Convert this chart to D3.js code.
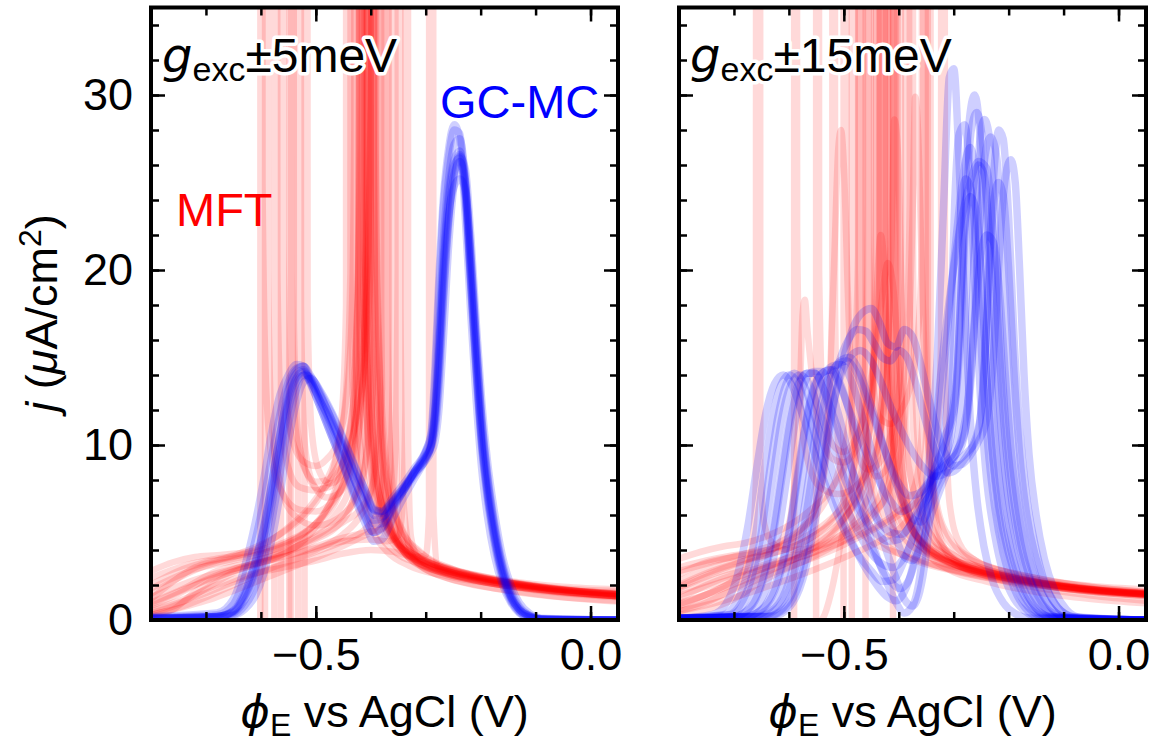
<!DOCTYPE html>
<html>
<head>
<meta charset="utf-8">
<script src="https://cdn.jsdelivr.net/npm/d3@7"></script>
<style>
  body { margin: 0; background: #fff; }
</style>
</head>
<body>
<svg id="chart" width="1158" height="744"></svg>
<script>
// ---- tick values ----
const xMinorTicks = [-0.8, -0.7, -0.6, -0.5, -0.4, -0.3, -0.2, -0.1, 0.0];
const xMajorTicks = [-0.5, 0.0];
const yMinorTicks = [0, 2, 4, 6, 8, 10, 12, 14, 16, 18, 20, 22, 24, 26, 28, 30, 32, 34];
const yMajorTicks = [0, 10, 20, 30];

// ---- GC-MC, +-5 meV panel (shared potential grid, one row of j per run) ----
const gcmcLeftX = [-0.80,-0.68,-0.65,-0.63,-0.61,-0.595,-0.58,-0.565,-0.55,-0.535,-0.522,-0.51,-0.49,-0.47,-0.45,-0.43,-0.41,-0.395,-0.38,-0.36,-0.34,-0.32,-0.30,-0.29,-0.283,-0.276,-0.268,-0.258,-0.248,-0.238,-0.228,-0.218,-0.208,-0.198,-0.188,-0.175,-0.16,-0.145,-0.13,-0.11,-0.09,0.05];
const gcmcLeftY = [
  [0.1,0.2,0.5,1.4,3.0,4.8,7.3,10.0,12.6,13.9,14.2,13.7,12.4,11.0,9.6,8.0,6.6,5.7,5.8,6.7,7.5,8.4,9.3,10.0,11.8,15.5,20.5,24.5,26.3,26.8,24.5,19.5,14.5,10.2,7.4,4.8,2.6,1.3,0.6,0.2,0.05,0],
  [0.2,0.4,1.2,3.0,5.6,8.0,10.8,12.9,14.0,14.6,14.5,13.6,12.0,10.4,8.8,7.2,5.8,5.0,5.3,6.4,7.4,8.5,9.6,10.8,14.5,19.5,24,27,28.3,27.5,23,17.5,12.5,8.6,6.0,3.7,2.0,1.0,0.4,0.12,0.03,0],
  [0.06,0.12,0.25,0.6,1.4,2.6,4.6,7.2,10.2,12.5,13.6,13.8,13.0,11.8,10.4,8.9,7.4,6.3,6.1,6.8,7.6,8.4,9.1,9.6,10.2,12,16,21.5,25,26.5,25.8,22,17,12.5,9.2,6.2,3.6,2.0,1.0,0.35,0.1,0],
  [0.12,0.2,0.5,1.5,3.3,5.2,7.8,10.6,13.0,14.1,14.3,13.5,12.0,10.4,8.8,7.0,5.5,4.5,4.6,5.8,7.0,8.1,9.2,10.0,12.3,16.5,21.5,25.3,27.2,27.5,25.2,20,15,10.5,7.6,4.9,2.7,1.3,0.6,0.2,0.05,0],
  [0.1,0.2,0.45,1.3,2.8,4.6,7.0,9.8,12.4,13.8,14.1,13.8,12.7,11.4,10.0,8.5,7.2,6.3,6.2,7.0,7.8,8.7,9.6,10.4,12,15,19.5,23.2,24.8,25.2,24.6,21,16,11.5,8.3,5.4,3.0,1.5,0.7,0.25,0.07,0],
  [0.16,0.3,0.9,2.4,4.6,6.8,9.4,11.8,13.6,14.4,14.5,13.8,12.2,10.6,9.0,7.3,5.9,5.0,5.2,6.3,7.4,8.5,9.7,10.6,13.6,18.6,23.5,26.5,28,27.8,24.5,19,14,9.8,7.0,4.4,2.3,1.1,0.45,0.12,0.03,0],
  [0.08,0.15,0.3,0.8,1.9,3.4,5.7,8.4,11.2,13.2,14.0,13.9,12.9,11.7,10.3,8.8,7.4,6.4,6.2,6.8,7.6,8.5,9.3,9.9,10.8,13.3,18,22.8,25.6,26.6,25.2,21,16,11.6,8.5,5.6,3.2,1.7,0.8,0.25,0.07,0],
  [0.12,0.2,0.55,1.6,3.4,5.3,7.9,10.7,13.2,14.3,14.5,14.0,12.8,11.3,9.7,8.0,6.5,5.5,5.5,6.5,7.4,8.3,9.2,9.9,11.2,14,18.5,23,25.5,26.2,25,20.5,15.5,11,8,5.2,2.9,1.4,0.6,0.2,0.05,0],
  [0.1,0.18,0.4,1.1,2.5,4.2,6.6,9.4,12.0,13.6,14.0,13.6,12.4,11.2,9.9,8.4,7.0,6.0,5.9,6.6,7.5,8.5,9.4,10.1,11.5,14.8,20,24,26,26.4,24,19.2,14.2,10,7.2,4.6,2.5,1.2,0.5,0.15,0.04,0]
];

// ---- GC-MC, +-15 meV panel: [potential, j] per run ----
const gcmcRight = [
  [[-0.8,0.1],[-0.72,0.3],[-0.7,0.8],[-0.68,2.2],[-0.66,5],[-0.645,8.5],[-0.63,11.5],[-0.615,13.4],[-0.6,14],[-0.585,13.6],[-0.565,11.8],[-0.54,9.2],[-0.515,6.8],[-0.49,4.8],[-0.465,3.2],[-0.44,2.0],[-0.42,1.3],[-0.405,1.1],[-0.39,1.6],[-0.375,3],[-0.36,5.5],[-0.345,9],[-0.33,15],[-0.318,24],[-0.308,31],[-0.3,31.5],[-0.29,26],[-0.28,18],[-0.27,11.5],[-0.258,7],[-0.245,4.2],[-0.23,2.3],[-0.21,1.0],[-0.19,0.4],[-0.16,0.1],[0.05,0]],
  [[-0.8,0.1],[-0.71,0.3],[-0.69,0.8],[-0.67,2.2],[-0.65,5],[-0.635,8.5],[-0.62,11.6],[-0.605,13.5],[-0.59,14.1],[-0.575,13.6],[-0.555,11.8],[-0.53,9.4],[-0.505,7.2],[-0.48,5.4],[-0.455,4.0],[-0.43,3.2],[-0.41,3.0],[-0.39,3.6],[-0.37,5],[-0.35,6.8],[-0.33,8.5],[-0.315,11],[-0.305,17],[-0.298,24],[-0.29,27.8],[-0.28,28.3],[-0.27,25],[-0.26,18],[-0.25,12],[-0.24,8],[-0.225,4.8],[-0.21,2.7],[-0.19,1.2],[-0.17,0.5],[-0.14,0.1],[0.05,0]],
  [[-0.8,0.1],[-0.68,0.2],[-0.65,0.6],[-0.625,2],[-0.6,5],[-0.585,8.2],[-0.57,11.2],[-0.555,13.3],[-0.54,14.1],[-0.525,14.3],[-0.51,13.6],[-0.49,12],[-0.465,10],[-0.44,8.2],[-0.415,6.8],[-0.395,6.2],[-0.375,6.6],[-0.355,7.5],[-0.335,8.3],[-0.315,9],[-0.3,9.6],[-0.29,11],[-0.282,15],[-0.275,20],[-0.265,24.5],[-0.255,26],[-0.245,25.5],[-0.235,22],[-0.225,16.5],[-0.215,11.5],[-0.205,8],[-0.19,5],[-0.175,3],[-0.155,1.4],[-0.13,0.4],[-0.1,0.1],[0.05,0]],
  [[-0.8,0.1],[-0.68,0.2],[-0.645,0.7],[-0.62,2.2],[-0.598,5.2],[-0.582,8.5],[-0.567,11.5],[-0.552,13.4],[-0.535,14.2],[-0.52,14.3],[-0.505,13.4],[-0.485,11.3],[-0.465,8.8],[-0.445,6.3],[-0.425,4.2],[-0.405,2.4],[-0.39,1.2],[-0.375,0.8],[-0.362,1.6],[-0.35,3.8],[-0.338,7.5],[-0.325,12],[-0.31,17],[-0.295,22],[-0.28,26],[-0.27,27],[-0.26,25.5],[-0.25,20],[-0.24,14],[-0.23,9.5],[-0.218,6],[-0.2,3.2],[-0.18,1.5],[-0.16,0.6],[-0.13,0.15],[0.05,0]],
  [[-0.8,0.1],[-0.66,0.2],[-0.625,0.7],[-0.6,2.2],[-0.578,5.2],[-0.562,8.5],[-0.546,11.6],[-0.53,13.7],[-0.512,14.6],[-0.495,14.8],[-0.478,14.2],[-0.46,12.8],[-0.44,11],[-0.42,9.2],[-0.4,7.8],[-0.38,7.1],[-0.36,7.3],[-0.34,8],[-0.32,8.7],[-0.3,9.3],[-0.285,10],[-0.275,12],[-0.267,17],[-0.26,23],[-0.252,27.5],[-0.244,28.6],[-0.236,27.8],[-0.226,23],[-0.215,16],[-0.205,11],[-0.192,7.2],[-0.178,4.4],[-0.16,2.3],[-0.14,1],[-0.115,0.3],[-0.09,0.1],[0.05,0]],
  [[-0.8,0.1],[-0.64,0.2],[-0.605,0.7],[-0.58,2.2],[-0.558,5.2],[-0.54,8.5],[-0.523,11.8],[-0.505,14],[-0.487,15.1],[-0.47,15.4],[-0.452,14.9],[-0.435,13.8],[-0.415,12.2],[-0.395,10.8],[-0.375,9.6],[-0.355,8.7],[-0.335,8.2],[-0.315,8.4],[-0.295,9],[-0.275,9.6],[-0.26,10.2],[-0.25,12],[-0.242,16],[-0.235,21],[-0.227,25.5],[-0.218,28],[-0.21,27.5],[-0.2,23],[-0.19,16],[-0.18,11],[-0.168,7.2],[-0.152,4.3],[-0.135,2.2],[-0.115,0.9],[-0.09,0.25],[-0.06,0.05],[0.05,0]],
  [[-0.8,0.1],[-0.63,0.2],[-0.6,0.7],[-0.575,2.3],[-0.553,5.5],[-0.535,9],[-0.518,12.4],[-0.5,15],[-0.482,16.8],[-0.465,17.6],[-0.45,17.8],[-0.435,17],[-0.42,15.8],[-0.405,15.6],[-0.39,16.6],[-0.375,16.2],[-0.36,14.6],[-0.345,12.6],[-0.33,10.8],[-0.315,9.5],[-0.3,8.8],[-0.285,8.9],[-0.27,9.4],[-0.255,10.2],[-0.24,11.5],[-0.23,14],[-0.222,18],[-0.214,22.5],[-0.205,25.5],[-0.196,26.3],[-0.188,25],[-0.18,20],[-0.172,14],[-0.163,9.5],[-0.15,6],[-0.135,3.5],[-0.115,1.6],[-0.095,0.6],[-0.07,0.15],[0.05,0]],
  [[-0.8,0.1],[-0.64,0.2],[-0.61,0.7],[-0.585,2.3],[-0.563,5.5],[-0.545,9],[-0.527,12.3],[-0.51,14.6],[-0.492,16],[-0.475,16.6],[-0.46,16.5],[-0.445,15.8],[-0.43,15],[-0.415,14.8],[-0.4,15.4],[-0.385,15],[-0.37,13.6],[-0.355,11.8],[-0.34,10.2],[-0.325,9],[-0.31,8.4],[-0.295,8.6],[-0.28,9.2],[-0.265,10],[-0.252,11.5],[-0.243,15],[-0.236,19.5],[-0.228,23.5],[-0.219,25],[-0.21,24.3],[-0.2,20],[-0.19,14],[-0.18,9.5],[-0.167,6],[-0.15,3.5],[-0.13,1.7],[-0.11,0.7],[-0.085,0.2],[0.05,0]],
  [[-0.8,0.1],[-0.7,0.2],[-0.67,0.7],[-0.648,2.2],[-0.628,5],[-0.612,8.3],[-0.597,11.4],[-0.582,13.4],[-0.567,14.1],[-0.553,14.1],[-0.538,13.3],[-0.515,11.3],[-0.49,9],[-0.465,7.1],[-0.44,5.8],[-0.415,5.0],[-0.395,4.9],[-0.375,5.6],[-0.355,6.6],[-0.335,7.6],[-0.32,8.6],[-0.31,10],[-0.302,14],[-0.295,19],[-0.287,23.5],[-0.278,25.2],[-0.268,24.5],[-0.258,20.5],[-0.248,14.5],[-0.238,10],[-0.226,6.6],[-0.21,3.8],[-0.19,1.8],[-0.17,0.7],[-0.14,0.15],[0.05,0]],
  [[-0.8,0.1],[-0.67,0.2],[-0.635,0.7],[-0.61,2.2],[-0.59,5.2],[-0.573,8.5],[-0.557,11.6],[-0.54,13.6],[-0.522,14.5],[-0.505,14.6],[-0.488,13.8],[-0.468,11.8],[-0.448,9.5],[-0.428,7.2],[-0.408,5],[-0.39,3.6],[-0.375,3.4],[-0.36,4.2],[-0.345,5.6],[-0.33,7],[-0.315,8.2],[-0.3,9.2],[-0.285,10.5],[-0.272,13],[-0.262,17],[-0.252,20.5],[-0.24,22],[-0.228,21.6],[-0.216,18.5],[-0.205,13.5],[-0.195,9.5],[-0.182,6.2],[-0.165,3.6],[-0.145,1.8],[-0.12,0.6],[-0.095,0.15],[0.05,0]],
  [[-0.8,0.1],[-0.69,0.2],[-0.66,0.7],[-0.638,2.2],[-0.618,5.2],[-0.602,8.5],[-0.587,11.6],[-0.572,13.5],[-0.555,14.2],[-0.54,14.2],[-0.525,13.3],[-0.505,11.2],[-0.485,8.6],[-0.465,6.2],[-0.445,4.1],[-0.425,2.4],[-0.405,1.0],[-0.39,0.4],[-0.375,0.8],[-0.362,2.4],[-0.35,5.5],[-0.338,9.5],[-0.322,14.5],[-0.305,19],[-0.288,22.5],[-0.27,25],[-0.255,26.2],[-0.24,25.8],[-0.228,22],[-0.218,16],[-0.208,11],[-0.195,7],[-0.178,4],[-0.158,2],[-0.135,0.7],[-0.11,0.15],[0.05,0]],
  [[-0.8,0.1],[-0.74,0.3],[-0.715,0.9],[-0.695,2.4],[-0.675,5.3],[-0.658,8.8],[-0.642,11.8],[-0.626,13.5],[-0.61,14],[-0.594,13.4],[-0.574,11.6],[-0.55,9.2],[-0.525,7],[-0.5,5.2],[-0.475,3.8],[-0.45,2.8],[-0.43,2.2],[-0.41,2.3],[-0.39,3.4],[-0.37,5.2],[-0.35,7.2],[-0.33,9],[-0.31,10.6],[-0.295,13],[-0.285,18],[-0.277,24],[-0.268,28],[-0.258,29],[-0.248,27.5],[-0.238,22],[-0.228,15.5],[-0.218,10.5],[-0.205,6.6],[-0.19,3.8],[-0.17,1.8],[-0.148,0.6],[-0.12,0.15],[0.05,0]],
  [[-0.8,0.1],[-0.705,0.3],[-0.685,0.8],[-0.664,2.2],[-0.644,5],[-0.628,8.4],[-0.613,11.5],[-0.597,13.4],[-0.58,14],[-0.565,13.6],[-0.545,12],[-0.52,9.8],[-0.495,7.8],[-0.47,6.2],[-0.445,5.1],[-0.42,4.5],[-0.4,4.6],[-0.38,5.4],[-0.36,6.6],[-0.34,7.8],[-0.32,9],[-0.305,10.5],[-0.295,13.5],[-0.288,18],[-0.28,22.5],[-0.27,24.2],[-0.26,23.5],[-0.25,19.5],[-0.24,14],[-0.23,9.8],[-0.218,6.5],[-0.2,3.8],[-0.18,1.9],[-0.16,0.8],[-0.13,0.2],[0.05,0]],
  [[-0.8,0.1],[-0.655,0.2],[-0.62,0.7],[-0.595,2.2],[-0.573,5.2],[-0.556,8.6],[-0.54,11.7],[-0.524,13.8],[-0.507,14.8],[-0.49,15],[-0.473,14.3],[-0.453,12.5],[-0.432,10.4],[-0.412,8.4],[-0.392,6.8],[-0.375,5.8],[-0.36,5.6],[-0.345,6.3],[-0.328,7.6],[-0.31,8.8],[-0.292,9.8],[-0.278,11],[-0.268,14],[-0.26,18.5],[-0.252,23],[-0.243,26.5],[-0.233,27.6],[-0.222,26.5],[-0.212,22],[-0.203,16],[-0.194,11],[-0.182,7.2],[-0.166,4.3],[-0.148,2.2],[-0.125,0.8],[-0.1,0.2],[0.05,0]],
  [[-0.8,0.1],[-0.7,0.2],[-0.672,0.7],[-0.65,2.2],[-0.63,5],[-0.614,8.4],[-0.599,11.5],[-0.584,13.4],[-0.568,14.1],[-0.553,14.1],[-0.538,13.2],[-0.518,11],[-0.497,8.6],[-0.476,6.4],[-0.455,4.6],[-0.435,3.2],[-0.415,2.2],[-0.398,1.8],[-0.383,2.2],[-0.368,3.6],[-0.352,5.8],[-0.336,8.2],[-0.318,10.3],[-0.302,12],[-0.292,15],[-0.285,20],[-0.278,25.5],[-0.27,29],[-0.262,30],[-0.254,28.5],[-0.245,23],[-0.236,16.5],[-0.226,11],[-0.213,7],[-0.196,4],[-0.176,2],[-0.154,0.8],[-0.125,0.2],[0.05,0]]
];

// ---- MFT, +-5 meV panel: [potential, j]; +-500 marks a divergence ----
const mftLeft = [
  [[-0.8,0.4],[-0.75,0.9],[-0.7,1.8],[-0.65,2.7],[-0.6,3.3],[-0.55,3.9],[-0.5,4.6],[-0.46,5.4],[-0.435,6.6],[-0.42,8.5],[-0.412,12],[-0.407,22],[-0.404,500],[-0.4,22],[-0.395,12],[-0.385,8],[-0.37,5.6],[-0.35,4.3],[-0.32,3.4],[-0.27,2.7],[-0.2,2.2],[-0.1,1.7],[0.05,1.3]],
  [[-0.8,1.5],[-0.75,2.4],[-0.7,3.1],[-0.65,3.5],[-0.6,3.8],[-0.55,4.3],[-0.5,5.1],[-0.46,6.2],[-0.44,7.4],[-0.425,9.5],[-0.416,14],[-0.412,25],[-0.409,500],[-0.405,25],[-0.4,13],[-0.39,8.5],[-0.375,6],[-0.355,4.6],[-0.32,3.6],[-0.27,2.9],[-0.2,2.3],[-0.1,1.85],[0.05,1.55]],
  [[-0.8,2.8],[-0.76,3.3],[-0.72,3.6],[-0.68,3.7],[-0.62,3.9],[-0.56,4.4],[-0.5,5.5],[-0.46,7],[-0.44,8.8],[-0.43,11.5],[-0.424,17],[-0.421,30],[-0.419,500],[-0.416,28],[-0.41,14],[-0.4,8.5],[-0.385,6],[-0.36,4.4],[-0.32,3.5],[-0.25,2.7],[-0.15,2.15],[-0.05,1.8],[0.05,1.65]],
  [[-0.8,0.2],[-0.76,0.6],[-0.72,1.6],[-0.68,2.4],[-0.64,2.9],[-0.6,3.4],[-0.55,4.0],[-0.5,4.8],[-0.45,6.0],[-0.42,7.4],[-0.41,9],[-0.403,14],[-0.399,30],[-0.397,500],[-0.394,26],[-0.39,13],[-0.38,8],[-0.365,5.4],[-0.34,3.9],[-0.3,2.9],[-0.24,2.2],[-0.15,1.7],[-0.05,1.3],[0.05,1.05]],
  [[-0.8,-3],[-0.65,-4],[-0.61,-12],[-0.602,-500],[-0.6,500],[-0.597,25],[-0.59,13],[-0.58,9.2],[-0.56,7.2],[-0.53,6.3],[-0.5,6.2],[-0.47,6.8],[-0.445,8.2],[-0.43,10.5],[-0.42,16],[-0.416,30],[-0.414,500],[-0.411,28],[-0.405,14],[-0.395,8.6],[-0.38,6.2],[-0.36,4.7],[-0.33,3.7],[-0.28,3.0],[-0.2,2.4],[-0.1,1.9],[0.05,1.5]],
  [[-0.8,-2],[-0.6,-4],[-0.57,-12],[-0.565,-500],[-0.562,500],[-0.559,22],[-0.553,12.5],[-0.54,10],[-0.52,9],[-0.5,8.8],[-0.48,9.2],[-0.46,10.2],[-0.445,12.5],[-0.435,17],[-0.43,28],[-0.428,500],[-0.425,28],[-0.42,16],[-0.41,10],[-0.395,7],[-0.37,5],[-0.33,3.8],[-0.27,3.0],[-0.18,2.3],[-0.08,1.8],[0.05,1.45]],
  [[-0.8,-2],[-0.58,-4],[-0.555,-12],[-0.55,-500],[-0.547,500],[-0.544,20],[-0.537,11],[-0.52,8.6],[-0.5,7.9],[-0.48,8.0],[-0.46,8.8],[-0.44,10.5],[-0.43,13],[-0.422,20],[-0.419,500],[-0.416,24],[-0.41,14],[-0.4,9],[-0.385,6.5],[-0.36,4.8],[-0.32,3.7],[-0.25,2.9],[-0.15,2.25],[-0.05,1.9],[0.05,1.75]],
  [[-0.8,-2],[-0.56,-4],[-0.54,-12],[-0.534,-500],[-0.531,500],[-0.527,18],[-0.52,10],[-0.505,7.8],[-0.48,7],[-0.46,7.2],[-0.44,8.2],[-0.425,10],[-0.415,13.5],[-0.409,22],[-0.406,500],[-0.403,20],[-0.397,11],[-0.385,7.2],[-0.37,5.3],[-0.34,4],[-0.3,3.2],[-0.22,2.5],[-0.12,1.95],[0.05,1.4]],
  [[-0.8,-2],[-0.62,-5],[-0.594,-500],[-0.591,500],[-0.587,20],[-0.58,11],[-0.565,7.8],[-0.54,6],[-0.5,5.4],[-0.46,5.8],[-0.43,7],[-0.41,9],[-0.4,11.5],[-0.393,17],[-0.389,500],[-0.386,18],[-0.38,9.5],[-0.37,6.5],[-0.355,4.8],[-0.33,3.7],[-0.29,3.0],[-0.22,2.4],[-0.12,1.9],[0.05,1.35]],
  [[-0.8,0.8],[-0.75,1.5],[-0.7,2.3],[-0.65,2.9],[-0.6,3.3],[-0.55,3.7],[-0.5,4.2],[-0.45,4.7],[-0.41,5.0],[-0.38,5.2],[-0.365,6],[-0.356,9],[-0.351,20],[-0.349,500],[-0.346,18],[-0.341,7],[-0.33,4.2],[-0.31,3.1],[-0.27,2.5],[-0.2,1.95],[-0.1,1.45],[0.05,1.1]],
  [[-0.8,1.0],[-0.74,1.8],[-0.68,2.8],[-0.62,3.3],[-0.56,3.9],[-0.5,4.7],[-0.45,5.6],[-0.42,6.3],[-0.4,7.4],[-0.39,10],[-0.386,18],[-0.384,500],[-0.381,18],[-0.376,8.5],[-0.365,5.5],[-0.345,4.1],[-0.31,3.2],[-0.25,2.6],[-0.15,2.0],[-0.05,1.6],[0.05,1.35]],
  [[-0.8,0.6],[-0.74,1.2],[-0.68,2.0],[-0.62,2.6],[-0.56,3.0],[-0.5,3.4],[-0.45,3.8],[-0.4,4.0],[-0.36,3.9],[-0.32,3.6],[-0.3,3.7],[-0.294,6],[-0.29,500],[-0.286,6],[-0.278,3.0],[-0.25,2.6],[-0.18,2.1],[-0.08,1.7],[0.05,1.35]],
  [[-0.8,2.0],[-0.75,2.8],[-0.7,3.3],[-0.65,3.6],[-0.6,4.2],[-0.55,5.3],[-0.51,6.5],[-0.48,8],[-0.46,9.8],[-0.445,13],[-0.437,20],[-0.433,500],[-0.43,22],[-0.424,12],[-0.41,7.6],[-0.39,5.3],[-0.36,4.0],[-0.31,3.2],[-0.24,2.6],[-0.14,2.0],[-0.04,1.6],[0.05,1.4]],
  [[-0.8,1.2],[-0.76,2.2],[-0.72,3.0],[-0.68,3.4],[-0.64,3.8],[-0.6,4.3],[-0.56,5],[-0.52,6],[-0.49,7.2],[-0.465,9],[-0.452,12],[-0.445,18],[-0.441,500],[-0.437,20],[-0.43,11],[-0.415,7],[-0.395,5],[-0.37,3.9],[-0.33,3.1],[-0.26,2.5],[-0.16,2.0],[-0.06,1.6],[0.05,1.35]],
  [[-0.8,0.3],[-0.75,0.7],[-0.7,1.3],[-0.65,2.0],[-0.6,2.7],[-0.55,3.3],[-0.5,3.9],[-0.45,4.5],[-0.41,5.2],[-0.39,6.0],[-0.38,7.5],[-0.374,11],[-0.371,500],[-0.367,12],[-0.36,6],[-0.345,4.2],[-0.32,3.3],[-0.27,2.7],[-0.2,2.2],[-0.1,1.75],[0.05,1.35]],
  [[-0.8,1.8],[-0.72,2.9],[-0.65,3.4],[-0.58,4.0],[-0.52,5.0],[-0.48,6.2],[-0.45,7.8],[-0.43,9.8],[-0.418,12.5],[-0.41,16],[-0.404,22],[-0.4,32],[-0.398,500],[-0.395,30],[-0.39,16],[-0.38,10],[-0.365,7],[-0.345,5.2],[-0.31,3.9],[-0.25,2.9],[-0.15,2.2],[-0.05,1.75],[0.05,1.45]],
  [[-0.8,0.9],[-0.72,2.0],[-0.64,2.9],[-0.57,3.6],[-0.52,4.6],[-0.49,5.8],[-0.465,7.4],[-0.448,9.4],[-0.436,12],[-0.428,15.5],[-0.422,21],[-0.418,30],[-0.416,500],[-0.413,28],[-0.408,17],[-0.4,11],[-0.385,7.3],[-0.36,5],[-0.32,3.7],[-0.26,2.9],[-0.16,2.2],[-0.06,1.75],[0.05,1.45]],
  [[-0.8,2.4],[-0.74,3.1],[-0.68,3.5],[-0.62,3.8],[-0.56,4.3],[-0.51,5.2],[-0.475,6.6],[-0.45,8.4],[-0.432,10.8],[-0.42,13.5],[-0.41,17.5],[-0.403,24],[-0.398,36],[-0.396,500],[-0.392,30],[-0.386,17],[-0.376,10.5],[-0.362,7],[-0.34,5],[-0.3,3.6],[-0.22,2.6],[-0.12,2.0],[0.05,1.45]],
  [[-0.8,-2],[-0.6,-4],[-0.58,-15],[-0.577,-500],[-0.574,500],[-0.57,20],[-0.563,11.5],[-0.55,8.7],[-0.53,7.6],[-0.5,7.4],[-0.47,8.0],[-0.445,9.4],[-0.425,11.6],[-0.41,15],[-0.4,21],[-0.394,500],[-0.39,22],[-0.383,13],[-0.372,8.3],[-0.355,5.8],[-0.33,4.3],[-0.28,3.2],[-0.2,2.5],[-0.1,1.95],[0.05,1.5]],
  [[-0.8,-2],[-0.55,-4],[-0.525,-15],[-0.522,-500],[-0.519,500],[-0.515,18],[-0.508,11],[-0.495,8.6],[-0.475,7.8],[-0.455,8.2],[-0.44,9.3],[-0.428,11.3],[-0.418,14.5],[-0.41,20],[-0.406,28],[-0.404,500],[-0.4,24],[-0.393,13.5],[-0.38,8.3],[-0.36,5.6],[-0.33,4.1],[-0.28,3.1],[-0.2,2.4],[-0.1,1.9],[0.05,1.45]],
  [[-0.8,0.5],[-0.72,1.3],[-0.64,2.3],[-0.57,3.1],[-0.5,4.0],[-0.45,4.9],[-0.42,5.9],[-0.4,7.2],[-0.388,9.4],[-0.38,13],[-0.376,19],[-0.373,500],[-0.37,18],[-0.365,10],[-0.355,6.2],[-0.34,4.6],[-0.31,3.5],[-0.26,2.8],[-0.18,2.2],[-0.08,1.75],[0.05,1.35]],
  [[-0.8,0.3],[-0.7,1.1],[-0.6,2.3],[-0.52,3.3],[-0.46,4.1],[-0.42,4.7],[-0.39,5.3],[-0.372,6.4],[-0.365,8.5],[-0.36,14],[-0.358,500],[-0.355,12],[-0.35,6],[-0.34,4.2],[-0.32,3.4],[-0.28,2.8],[-0.2,2.2],[-0.1,1.75],[0.05,1.35]],
  [[-0.8,1.3],[-0.72,2.3],[-0.64,3.0],[-0.56,3.6],[-0.5,4.1],[-0.45,4.5],[-0.4,4.6],[-0.37,4.5],[-0.35,4.8],[-0.342,6.5],[-0.337,12],[-0.335,500],[-0.332,10],[-0.327,4.8],[-0.315,3.6],[-0.28,2.9],[-0.2,2.3],[-0.1,1.85],[0.05,1.45]],
  [[-0.8,-2],[-0.57,-4],[-0.55,-15],[-0.547,-500],[-0.544,500],[-0.54,17],[-0.532,10.5],[-0.515,8.3],[-0.495,7.5],[-0.475,7.6],[-0.455,8.6],[-0.44,10.5],[-0.43,13.5],[-0.424,18.5],[-0.42,28],[-0.418,500],[-0.414,26],[-0.407,14.5],[-0.395,9],[-0.375,6.2],[-0.35,4.6],[-0.3,3.4],[-0.22,2.6],[-0.12,2.0],[0.05,1.5]]
];

// ---- MFT, +-15 meV panel ----
const mftRight = [
  [[-0.8,1.0],[-0.74,1.6],[-0.7,2.3],[-0.68,2.9],[-0.668,4],[-0.66,8],[-0.656,500],[-0.652,9],[-0.645,5.5],[-0.63,4.4],[-0.6,4.0],[-0.56,4.1],[-0.52,4.6],[-0.48,5.4],[-0.45,6.3],[-0.43,7.5],[-0.418,10],[-0.41,16],[-0.406,500],[-0.402,16],[-0.395,9],[-0.38,6],[-0.36,4.6],[-0.33,3.7],[-0.28,2.9],[-0.2,2.3],[-0.1,1.8],[0.05,1.4]],
  [[-0.8,-3],[-0.62,-5],[-0.595,-30],[-0.592,-500],[-0.589,500],[-0.585,22],[-0.578,12],[-0.565,9],[-0.54,7.5],[-0.51,7.2],[-0.48,7.6],[-0.455,8.6],[-0.435,10.5],[-0.422,14],[-0.415,22],[-0.412,500],[-0.408,22],[-0.4,11],[-0.385,7],[-0.36,5],[-0.32,3.8],[-0.26,3.0],[-0.17,2.3],[-0.07,1.8],[0.05,1.5]],
  [[-0.8,-2],[-0.58,-4],[-0.555,-20],[-0.552,-500],[-0.549,500],[-0.545,20],[-0.538,12.5],[-0.52,10],[-0.5,9.6],[-0.48,10.3],[-0.46,12],[-0.445,15],[-0.435,20],[-0.43,500],[-0.426,22],[-0.418,12],[-0.405,8],[-0.385,5.8],[-0.35,4.3],[-0.3,3.3],[-0.22,2.6],[-0.12,2.0],[0.05,1.5]],
  [[-0.8,2.6],[-0.75,3.3],[-0.7,3.6],[-0.65,3.9],[-0.6,4.5],[-0.57,5.3],[-0.55,6.6],[-0.535,9],[-0.525,14],[-0.517,21],[-0.51,27],[-0.505,28],[-0.5,26],[-0.493,19],[-0.485,12],[-0.475,8],[-0.46,6],[-0.44,4.8],[-0.41,4],[-0.37,3.4],[-0.3,2.8],[-0.2,2.2],[-0.1,1.8],[0.05,1.45]],
  [[-0.8,1.8],[-0.74,2.6],[-0.68,3.2],[-0.63,4],[-0.6,5.5],[-0.588,8.5],[-0.58,13],[-0.575,17.5],[-0.571,18.3],[-0.566,16.5],[-0.556,13.5],[-0.54,10.6],[-0.52,9.2],[-0.5,9],[-0.48,9.6],[-0.46,11],[-0.445,13.5],[-0.435,18],[-0.43,500],[-0.425,18],[-0.415,10.5],[-0.4,7.3],[-0.38,5.4],[-0.35,4.1],[-0.3,3.2],[-0.22,2.5],[-0.12,2.0],[0.05,1.55]],
  [[-0.8,-1],[-0.6,-0.8],[-0.55,-0.3],[-0.535,0.3],[-0.52,2],[-0.505,4.5],[-0.49,7],[-0.48,9.5],[-0.473,14],[-0.469,500],[-0.465,14],[-0.455,8.5],[-0.44,6.2],[-0.415,4.8],[-0.38,3.8],[-0.33,3.1],[-0.25,2.5],[-0.15,2.0],[-0.05,1.6],[0.05,1.4]],
  [[-0.8,0.5],[-0.75,1.0],[-0.7,1.8],[-0.65,2.6],[-0.6,3.3],[-0.55,4.3],[-0.5,5.8],[-0.47,7.6],[-0.455,10.5],[-0.445,15],[-0.438,20],[-0.433,22],[-0.427,20.5],[-0.42,15],[-0.41,10],[-0.395,7],[-0.375,5.2],[-0.34,4],[-0.29,3.2],[-0.22,2.6],[-0.12,2.0],[0.05,1.5]],
  [[-0.8,3.5],[-0.76,3.9],[-0.72,4.2],[-0.68,4.4],[-0.64,4.8],[-0.6,5.4],[-0.56,6.3],[-0.52,7.6],[-0.49,9.3],[-0.465,11.6],[-0.447,14.5],[-0.432,18],[-0.42,20.4],[-0.41,19],[-0.398,14],[-0.385,9.5],[-0.365,6.5],[-0.34,4.8],[-0.3,3.7],[-0.24,2.9],[-0.15,2.3],[-0.05,1.95],[0.05,1.75]],
  [[-0.8,0.8],[-0.74,1.6],[-0.68,2.5],[-0.62,3.3],[-0.56,4.3],[-0.5,5.8],[-0.46,7.8],[-0.435,10.5],[-0.42,15],[-0.413,22],[-0.408,28.6],[-0.402,27],[-0.396,20],[-0.388,12],[-0.375,7.5],[-0.355,5.2],[-0.32,3.8],[-0.26,3.0],[-0.17,2.3],[-0.07,1.8],[0.05,1.45]],
  [[-0.8,1.4],[-0.72,2.2],[-0.64,3],[-0.56,3.8],[-0.5,4.8],[-0.45,6],[-0.415,7.6],[-0.395,10],[-0.382,15],[-0.375,23],[-0.37,29.9],[-0.365,28],[-0.358,20],[-0.35,12],[-0.338,7.5],[-0.32,5.2],[-0.29,3.9],[-0.23,3.0],[-0.15,2.4],[-0.05,1.9],[0.05,1.6]],
  [[-0.8,2.2],[-0.76,2.8],[-0.72,3.2],[-0.66,3.6],[-0.6,4.1],[-0.55,4.9],[-0.5,6.2],[-0.47,7.6],[-0.445,9.8],[-0.43,13],[-0.423,20],[-0.42,500],[-0.417,20],[-0.41,11.5],[-0.398,7.6],[-0.38,5.6],[-0.35,4.2],[-0.3,3.2],[-0.23,2.6],[-0.14,2.0],[-0.04,1.6],[0.05,1.35]],
  [[-0.8,0.3],[-0.75,0.6],[-0.7,1.2],[-0.66,2],[-0.62,2.7],[-0.57,3.4],[-0.52,4.2],[-0.47,5.2],[-0.44,6.2],[-0.42,7.6],[-0.41,9.5],[-0.404,14],[-0.4,500],[-0.396,14],[-0.39,8],[-0.375,5.4],[-0.35,3.9],[-0.31,2.9],[-0.24,2.2],[-0.15,1.6],[-0.05,1.2],[0.05,0.95]],
  [[-0.8,1.2],[-0.75,2.0],[-0.7,2.6],[-0.65,3.0],[-0.6,3.4],[-0.55,3.9],[-0.5,4.5],[-0.45,5.2],[-0.41,6],[-0.38,7],[-0.365,8.5],[-0.356,12],[-0.351,500],[-0.347,12],[-0.34,6.5],[-0.325,4.5],[-0.3,3.5],[-0.25,2.8],[-0.17,2.2],[-0.07,1.8],[0.05,1.5]],
  [[-0.8,-2],[-0.54,-4],[-0.505,-30],[-0.502,-500],[-0.499,500],[-0.495,20],[-0.488,12],[-0.475,9.4],[-0.455,8.6],[-0.435,9],[-0.42,10],[-0.405,12],[-0.395,15],[-0.388,22],[-0.385,500],[-0.381,20],[-0.373,10.5],[-0.36,6.8],[-0.34,4.8],[-0.3,3.5],[-0.23,2.7],[-0.13,2.1],[-0.03,1.7],[0.05,1.5]],
  [[-0.8,0.6],[-0.74,1.2],[-0.68,2.0],[-0.62,2.8],[-0.56,3.5],[-0.5,4.3],[-0.45,5.1],[-0.4,6.0],[-0.36,7.0],[-0.34,8.2],[-0.33,10.5],[-0.323,16],[-0.32,500],[-0.316,15],[-0.308,6.8],[-0.29,4.4],[-0.26,3.4],[-0.2,2.7],[-0.12,2.1],[-0.03,1.7],[0.05,1.45]],
  [[-0.8,3.0],[-0.75,3.4],[-0.7,3.7],[-0.64,4.0],[-0.58,4.6],[-0.53,5.6],[-0.49,7.0],[-0.465,8.8],[-0.452,11.5],[-0.445,16],[-0.441,500],[-0.437,17],[-0.43,10],[-0.415,7],[-0.39,5.2],[-0.36,4.2],[-0.31,3.3],[-0.24,2.6],[-0.14,2.1],[-0.04,1.7],[0.05,1.5]],
  [[-0.8,-1],[-0.45,-3],[-0.415,-30],[-0.412,-500],[-0.409,500],[-0.405,15],[-0.398,8.5],[-0.385,6],[-0.36,4.5],[-0.32,3.5],[-0.26,2.8],[-0.17,2.2],[-0.07,1.75],[0.05,1.45]],
  [[-0.8,2.0],[-0.74,2.8],[-0.68,3.4],[-0.62,3.9],[-0.56,4.7],[-0.52,5.8],[-0.495,7.2],[-0.478,9.2],[-0.467,12],[-0.46,16],[-0.456,24],[-0.454,500],[-0.451,22],[-0.445,12.5],[-0.435,8.5],[-0.415,6],[-0.385,4.5],[-0.34,3.5],[-0.27,2.8],[-0.18,2.2],[-0.08,1.75],[0.05,1.45]],
  [[-0.8,-2],[-0.52,-4],[-0.49,-15],[-0.487,-500],[-0.484,500],[-0.48,20],[-0.472,12],[-0.458,9],[-0.44,8.2],[-0.42,8.8],[-0.405,10.3],[-0.393,13],[-0.385,17],[-0.38,24],[-0.378,500],[-0.374,20],[-0.367,11],[-0.355,7.2],[-0.335,5],[-0.3,3.7],[-0.24,2.9],[-0.15,2.2],[-0.05,1.8],[0.05,1.55]],
  [[-0.8,0.9],[-0.72,1.8],[-0.64,2.8],[-0.57,3.8],[-0.52,4.9],[-0.49,6.2],[-0.47,7.6],[-0.457,9.5],[-0.449,12.5],[-0.444,17],[-0.441,26],[-0.439,500],[-0.436,24],[-0.43,13],[-0.42,8.5],[-0.4,6],[-0.37,4.5],[-0.32,3.4],[-0.25,2.7],[-0.15,2.1],[-0.05,1.7],[0.05,1.45]],
  [[-0.8,1.6],[-0.72,2.5],[-0.64,3.2],[-0.56,4.0],[-0.5,5.0],[-0.465,6.4],[-0.445,8.2],[-0.434,10.8],[-0.428,15],[-0.425,22],[-0.423,500],[-0.42,22],[-0.414,12],[-0.403,8],[-0.385,5.8],[-0.355,4.3],[-0.3,3.3],[-0.22,2.6],[-0.12,2.0],[0.05,1.45]],
  [[-0.8,-2],[-0.5,-4],[-0.465,-15],[-0.462,-500],[-0.459,500],[-0.455,22],[-0.448,14],[-0.435,11.6],[-0.415,11.2],[-0.395,12],[-0.378,13.5],[-0.366,16],[-0.358,21],[-0.355,500],[-0.351,18],[-0.344,10],[-0.33,6.5],[-0.305,4.6],[-0.26,3.4],[-0.18,2.6],[-0.08,2.0],[0.05,1.6]],
  [[-0.8,1.9],[-0.74,2.7],[-0.68,3.4],[-0.62,4.2],[-0.575,5.3],[-0.548,6.8],[-0.533,9],[-0.525,12.5],[-0.521,19],[-0.519,500],[-0.516,18],[-0.51,10],[-0.498,7],[-0.478,5.4],[-0.45,4.5],[-0.4,3.8],[-0.33,3.1],[-0.24,2.5],[-0.14,2.0],[-0.04,1.65],[0.05,1.45]],
  [[-0.8,0.5],[-0.72,1.1],[-0.64,1.9],[-0.56,2.8],[-0.49,3.7],[-0.43,4.6],[-0.39,5.5],[-0.365,6.8],[-0.352,9.5],[-0.347,15],[-0.345,500],[-0.342,13],[-0.336,6.8],[-0.322,4.5],[-0.295,3.3],[-0.24,2.5],[-0.15,1.85],[-0.05,1.4],[0.05,1.1]],
  [[-0.8,2.8],[-0.74,3.3],[-0.68,3.8],[-0.62,4.4],[-0.57,5.4],[-0.53,7],[-0.505,9],[-0.49,11.5],[-0.48,15],[-0.474,21],[-0.471,500],[-0.468,20],[-0.462,12],[-0.45,8.2],[-0.43,6.2],[-0.4,4.8],[-0.35,3.8],[-0.28,3.0],[-0.18,2.3],[-0.08,1.85],[0.05,1.55]]
];

// ---- layout ----
const svg = d3.select('#chart');
const font = '"Liberation Sans", Arial, Helvetica, sans-serif';
const plotTop = 7.5, plotBottom = 620;
const y = d3.scaleLinear().domain([0, 35]).range([plotBottom, plotTop]);

const panels = [
  { id: 'l', left: 151, right: 618, mft: mftLeft,
    gcmc: gcmcLeftY.map(ys => ys.map((v, i) => [gcmcLeftX[i], v])), tag: '±5meV', yLabels: true },
  { id: 'r', left: 679, right: 1146, mft: mftRight, gcmc: gcmcRight, tag: '±15meV', yLabels: false }
];

svg.append('rect').attr('width', 1158).attr('height', 744).attr('fill', '#fff');

panels.forEach(p => {
  const x = d3.scaleLinear().domain([-0.8, 0.05]).range([p.left, p.right]);
  const g = svg.append('g');

  svg.append('clipPath').attr('id', 'clip-' + p.id)
    .append('rect')
    .attr('x', p.left).attr('y', plotTop)
    .attr('width', p.right - p.left).attr('height', plotBottom - plotTop);

  const line = d3.line()
    .x(d => x(d[0]))
    .y(d => y(d[1]))
    .curve(d3.curveMonotoneX);

  const curves = g.append('g').attr('clip-path', `url(#clip-${p.id})`);

  // MFT first, GC-MC on top
  curves.selectAll('path.mft')
    .data(p.mft)
    .join('path')
    .attr('class', 'mft')
    .attr('d', line)
    .attr('fill', 'none')
    .attr('stroke', '#ff0000')
    .attr('stroke-opacity', 0.15)
    .attr('stroke-width', 6.5)
    .attr('stroke-linejoin', 'round')
    .attr('stroke-linecap', 'round');

  curves.selectAll('path.gcmc')
    .data(p.gcmc)
    .join('path')
    .attr('class', 'gcmc')
    .attr('d', line)
    .attr('fill', 'none')
    .attr('stroke', '#0000ff')
    .attr('stroke-opacity', 0.19)
    .attr('stroke-width', 7.5)
    .attr('stroke-linejoin', 'round')
    .attr('stroke-linecap', 'round');

  // ticks on all four sides, pointing inward
  const styleAxis = sel => {
    sel.select('.domain').remove();
    sel.selectAll('line').attr('stroke', '#000').attr('stroke-width', 2.5);
    sel.attr('font-size', 45).attr('font-family', font);
    sel.selectAll('text').attr('fill', '#000');
  };
  const blank = () => '';

  g.append('g').attr('transform', `translate(0,${plotBottom})`)
    .call(d3.axisBottom(x).tickValues(xMinorTicks).tickSize(-8).tickFormat(blank)).call(styleAxis);
  g.append('g').attr('transform', `translate(0,${plotBottom})`)
    .call(d3.axisBottom(x).tickValues(xMajorTicks).tickSize(-14).tickPadding(18)
      .tickFormat(d3.format('.1f'))).call(styleAxis);
  g.append('g').attr('transform', `translate(0,${plotTop})`)
    .call(d3.axisTop(x).tickValues(xMinorTicks).tickSize(-8).tickFormat(blank)).call(styleAxis);
  g.append('g').attr('transform', `translate(0,${plotTop})`)
    .call(d3.axisTop(x).tickValues(xMajorTicks).tickSize(-14).tickFormat(blank)).call(styleAxis);

  g.append('g').attr('transform', `translate(${p.left},0)`)
    .call(d3.axisLeft(y).tickValues(yMinorTicks).tickSize(-8).tickFormat(blank)).call(styleAxis);
  g.append('g').attr('transform', `translate(${p.left},0)`)
    .call(d3.axisLeft(y).tickValues(yMajorTicks).tickSize(-14).tickPadding(18)
      .tickFormat(p.yLabels ? d3.format('d') : blank)).call(styleAxis);
  g.append('g').attr('transform', `translate(${p.right},0)`)
    .call(d3.axisRight(y).tickValues(yMinorTicks).tickSize(-8).tickFormat(blank)).call(styleAxis);
  g.append('g').attr('transform', `translate(${p.right},0)`)
    .call(d3.axisRight(y).tickValues(yMajorTicks).tickSize(-14).tickFormat(blank)).call(styleAxis);

  // frame
  g.append('rect')
    .attr('x', p.left).attr('y', plotTop)
    .attr('width', p.right - p.left).attr('height', plotBottom - plotTop)
    .attr('fill', 'none').attr('stroke', '#000').attr('stroke-width', 4);

  // x label
  const xl = g.append('text')
    .attr('x', (p.left + p.right) / 2).attr('y', 727)
    .attr('text-anchor', 'middle')
    .attr('font-family', font).attr('font-size', 45);
  xl.append('tspan').attr('font-family', '"DejaVu Sans", sans-serif').attr('font-style', 'italic').text('ϕ');
  xl.append('tspan').attr('dy', 9).attr('font-size', 32).text('E');
  xl.append('tspan').attr('dy', -9).text(' vs AgCl (V)');

  // g_exc tag with white halo
  const tg = g.append('text')
    .attr('x', p.left + 11).attr('y', 72)
    .attr('font-family', font).attr('font-size', 48)
    .attr('fill', '#000').attr('stroke', '#fff').attr('stroke-width', 7)
    .attr('stroke-linejoin', 'round').attr('paint-order', 'stroke');
  tg.append('tspan').attr('font-family', '"DejaVu Sans", sans-serif').attr('font-style', 'italic').text('g');
  tg.append('tspan').attr('dy', 9).attr('font-size', 34).text('exc');
  tg.append('tspan').attr('dy', -9).text(p.tag);
});

// series labels in the left panel
svg.append('text').attr('x', 440).attr('y', 118)
  .attr('font-family', font).attr('font-size', 47).attr('fill', '#0000ff').text('GC-MC');
svg.append('text').attr('x', 176).attr('y', 226)
  .attr('font-family', font).attr('font-size', 47).attr('fill', '#ff0000').text('MFT');

// y label
const yl = svg.append('text')
  .attr('transform', 'translate(57,313) rotate(-90)')
  .attr('text-anchor', 'middle')
  .attr('font-family', font).attr('font-size', 45);
yl.append('tspan').attr('font-style', 'italic').text('j');
yl.append('tspan').text(' (');
yl.append('tspan').attr('font-style', 'italic').text('μ');
yl.append('tspan').text('A/cm');
yl.append('tspan').attr('dy', -16).attr('font-size', 32).text('2');
yl.append('tspan').attr('dy', 16).text(')');
</script>
</body>
</html>
